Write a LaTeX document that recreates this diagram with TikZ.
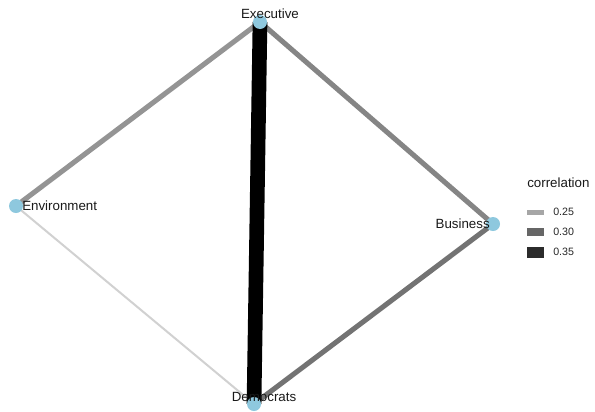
\documentclass[tikz,border=0pt]{standalone}
\usepackage{fontspec}
\setmainfont{Liberation Sans}
\begin{document}
\begin{tikzpicture}[x=0.75pt,y=-0.75pt,
  vert/.style={circle,fill=nodeblue,inner sep=0pt,minimum size=10.5pt},
  lbl/.style={font=\fontsize{10}{12}\selectfont,inner sep=0pt,text=black!90},
  edge/.style={line cap=butt},
  keytxt/.style={font=\fontsize{8}{10}\selectfont,anchor=west,inner sep=0pt,text=black!85}]
\definecolor{nodeblue}{HTML}{8EC8DE}
\useasboundingbox (0,0) rectangle (595,411);
\coordinate (ex) at (260,22);
\coordinate (en) at (16,206);
\coordinate (bu) at (493,224);
\coordinate (de) at (254,404);
\draw[edge,line width=1.5pt,color=black!18] (en) -- (de);
\draw[edge,line width=3.8pt,color=black!42] (ex) -- (en);
\draw[edge,line width=3.8pt,color=black!48] (ex) -- (bu);
\draw[edge,line width=3.8pt,color=black!55] (bu) -- (de);
\draw[edge,line width=11pt,color=black] (ex) -- (de);
\node[vert] (nex) at (ex) {};
\node[vert] (nen) at (en) {};
\node[vert] (nbu) at (bu) {};
\node[vert] (nde) at (de) {};
\node[lbl,anchor=base] (tex) at (270,18) {Executive};
\node[lbl,anchor=base west] (ten) at (22,210) {Environment};
\node[lbl,anchor=base east] (tbu) at (490,228) {Business};
\node[lbl,anchor=base] (tde) at (264,401) {Democrats};
\node[font=\fontsize{10}{12}\selectfont,anchor=base west,inner sep=0pt,text=black!90] (title) at (527,187) {correlation};
\fill[black!35] (527,209.5) rectangle (544,214.5);
\fill[black!60] (527,228) rectangle (544,236);
\fill[black!83] (527,246.5) rectangle (544,257.5);
\node[keytxt] (k1) at (553,212) {0.25};
\node[keytxt] (k2) at (553,232) {0.30};
\node[keytxt] (k3) at (553,252) {0.35};
\end{tikzpicture}
\end{document}
